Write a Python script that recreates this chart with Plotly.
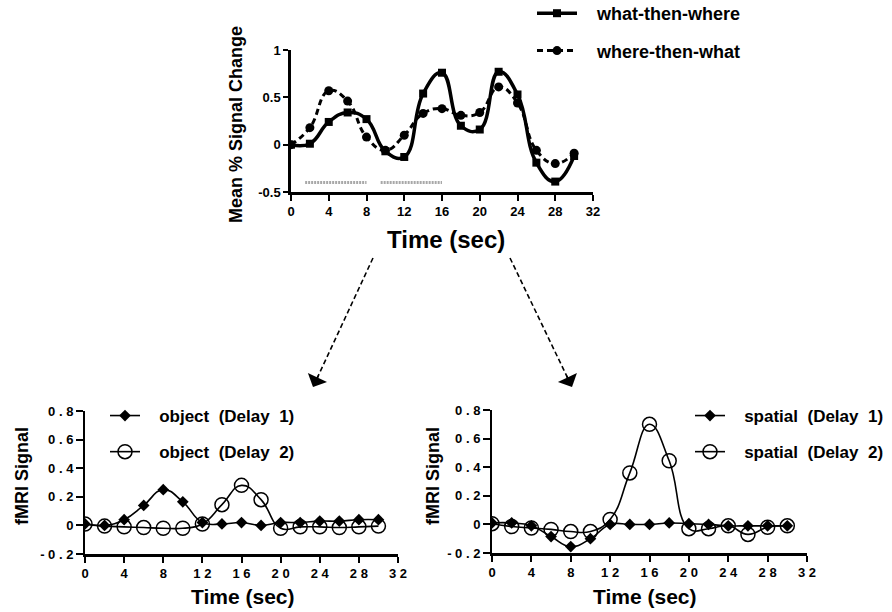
import plotly.graph_objects as go

W, H = 892, 612

# ---------------- data ----------------
time = [0, 2, 4, 6, 8, 10, 12, 14, 16, 18, 20, 22, 24, 26, 28, 30]

what_then_where = [0.0, 0.01, 0.24, 0.34, 0.27, -0.07, -0.13, 0.54, 0.76, 0.20, 0.16, 0.77, 0.53, -0.19, -0.39, -0.12]
where_then_what = [0.0, 0.18, 0.57, 0.46, 0.08, -0.06, 0.10, 0.33, 0.38, 0.31, 0.34, 0.61, 0.44, -0.06, -0.20, -0.09]

stim_start = [1.5, 9.5]
stim_end = [8.0, 16.0]
stim_level = -0.4

object_delay1 = [0.01, 0.0, 0.04, 0.14, 0.25, 0.165, 0.02, 0.01, 0.02, 0.0, 0.02, 0.02, 0.03, 0.03, 0.04, 0.04]
object_delay2 = [0.01, -0.005, -0.01, -0.015, -0.02, -0.02, 0.01, 0.145, 0.28, 0.18, -0.02, -0.01, -0.01, -0.015, -0.01, -0.005]

spatial_delay1 = [0.01, 0.01, -0.01, -0.085, -0.155, -0.10, 0.0, 0.0, 0.0, 0.01, 0.005, 0.0, -0.01, -0.01, -0.01, -0.01]
spatial_delay2 = [0.005, -0.015, -0.025, -0.035, -0.05, -0.05, 0.035, 0.36, 0.70, 0.445, -0.03, -0.03, -0.01, -0.07, -0.02, -0.01]

x_tick_vals = [0, 4, 8, 12, 16, 20, 24, 28, 32]
top_x_text = ["0", "4", "8", "12", "16", "20", "24", "28", "32"]
bottom_x_text = ["0", "4", "8", "1 2", "1 6", "2 0", "2 4", "2 8", "3 2"]
top_y_vals = [-0.5, 0, 0.5, 1]
top_y_text = ["-0.5", "0", "0.5", "1"]
bottom_y_vals = [-0.2, 0, 0.2, 0.4, 0.6, 0.8]
bottom_y_text = ["- 0 . 2", "0", "0 . 2", "0 . 4", "0 . 6", "0 . 8"]

FONT = "Liberation Sans"
PAD = "\u00a0\u00a0\u00a0"

def fx(px):
    return px / W

def fy(py):
    return 1 - py / H

fig = go.Figure()

# ---------------- top panel ----------------
fig.add_trace(go.Scatter(
    x=time, y=what_then_where, name=PAD + "what-then-where", legend="legend", legendgroup="a",
    mode="lines+markers", line=dict(color="black", width=3.5, shape="spline", smoothing=1.3),
    marker=dict(symbol="square", size=8, color="black"), xaxis="x", yaxis="y"))
fig.add_trace(go.Scatter(
    x=time, y=where_then_what, name=PAD + "where-then-what", legend="legend", legendgroup="b",
    mode="lines+markers", line=dict(color="black", width=3, dash="6px,4px", shape="spline", smoothing=1.3),
    marker=dict(symbol="circle", size=9, color="black"), xaxis="x", yaxis="y"))
for s, e in zip(stim_start, stim_end):
    fig.add_trace(go.Scatter(
        x=[s, e], y=[stim_level, stim_level], mode="lines", showlegend=False,
        line=dict(color="#a8a8a8", width=3, dash="2px,1px"), xaxis="x", yaxis="y", hoverinfo="skip"))

# ---------------- bottom-left panel ----------------
fig.add_trace(go.Scatter(
    x=time, y=object_delay1, name=PAD + "object  (Delay  1)", legend="legend2", legendgroup="c",
    mode="lines+markers", line=dict(color="black", width=1.6, shape="spline", smoothing=1.3),
    marker=dict(symbol="diamond", size=9, color="black"), xaxis="x2", yaxis="y2"))
fig.add_trace(go.Scatter(
    x=time, y=object_delay2, name=PAD + "object  (Delay  2)", legend="legend2", legendgroup="d",
    mode="lines+markers", line=dict(color="black", width=1.6, shape="spline", smoothing=1.3),
    marker=dict(symbol="circle-open", size=14, color="black", line=dict(width=1.5)), xaxis="x2", yaxis="y2"))

# ---------------- bottom-right panel ----------------
fig.add_trace(go.Scatter(
    x=time, y=spatial_delay1, name=PAD + "spatial  (Delay  1)", legend="legend3", legendgroup="e",
    mode="lines+markers", line=dict(color="black", width=1.6, shape="spline", smoothing=1.3),
    marker=dict(symbol="diamond", size=9, color="black"), xaxis="x3", yaxis="y3"))
fig.add_trace(go.Scatter(
    x=time, y=spatial_delay2, name=PAD + "spatial  (Delay  2)", legend="legend3", legendgroup="f",
    mode="lines+markers", line=dict(color="black", width=1.6, shape="spline", smoothing=1.3),
    marker=dict(symbol="circle-open", size=14, color="black", line=dict(width=1.5)), xaxis="x3", yaxis="y3"))

axis_common = dict(showgrid=False, zeroline=False, showline=True, linecolor="black",
                   ticks="outside", tickcolor="black", tickwidth=2, fixedrange=True)

tickfont_top = dict(family=FONT, size=13, color="black", weight="bold")
tickfont_bot = dict(family=FONT, size=13, color="black", weight="bold")
legfont_top = dict(family=FONT, size=18, color="black", weight="bold")
legfont = dict(family=FONT, size=17, color="black", weight="bold")

fig.update_layout(
    width=W, height=H, margin=dict(l=0, r=0, t=0, b=0, autoexpand=False),
    paper_bgcolor="white", plot_bgcolor="white",
    font=dict(family=FONT, color="black", weight="bold"),
    xaxis=dict(domain=[fx(291), fx(593)], range=[0, 32], tickvals=x_tick_vals, ticktext=top_x_text,
               anchor="y", linewidth=2.5, ticklen=6, tickfont=tickfont_top, **axis_common),
    yaxis=dict(domain=[fy(192), fy(50)], range=[-0.5, 1], tickvals=top_y_vals, ticktext=top_y_text,
               anchor="x", linewidth=2.5, ticklen=5, tickfont=tickfont_top, **axis_common),
    xaxis2=dict(domain=[fx(85), fx(398)], range=[0, 32], tickvals=x_tick_vals, ticktext=bottom_x_text,
                anchor="y2", linewidth=2.5, ticklen=6, tickfont=tickfont_bot, **axis_common),
    yaxis2=dict(domain=[fy(554), fy(411)], range=[-0.2, 0.8], tickvals=bottom_y_vals, ticktext=bottom_y_text,
                anchor="x2", linewidth=2, ticklen=7, tickfont=tickfont_bot, **axis_common),
    xaxis3=dict(domain=[fx(492), fx(807)], range=[0, 32], tickvals=x_tick_vals, ticktext=bottom_x_text,
                anchor="y3", linewidth=2.5, ticklen=6, tickfont=tickfont_bot, **axis_common),
    yaxis3=dict(domain=[fy(553), fy(410)], range=[-0.2, 0.8], tickvals=bottom_y_vals, ticktext=bottom_y_text,
                anchor="x3", linewidth=2, ticklen=7, tickfont=tickfont_bot, **axis_common),
    legend=dict(x=fx(532), y=fy(-5), xanchor="left", yanchor="top", bgcolor="rgba(0,0,0,0)",
                font=legfont_top, itemwidth=40, tracegroupgap=11, traceorder="grouped"),
    legend2=dict(x=fx(105), y=fy(398), xanchor="left", yanchor="top", bgcolor="rgba(0,0,0,0)",
                 font=legfont, itemwidth=30, tracegroupgap=11, traceorder="grouped"),
    legend3=dict(x=fx(690), y=fy(398), xanchor="left", yanchor="top", bgcolor="rgba(0,0,0,0)",
                 font=legfont, itemwidth=30, tracegroupgap=11, traceorder="grouped"),
    showlegend=True,
)

# axis titles
annots = [
    dict(text="Time (sec)", x=fx(446), y=fy(240), size=24, angle=0),
    dict(text="Mean % Signal Change", x=fx(236), y=fy(125), size=18, angle=-90),
    dict(text="Time (sec)", x=fx(243), y=fy(596), size=21, angle=0),
    dict(text="Time (sec)", x=fx(645), y=fy(596), size=21, angle=0),
    dict(text="fMRI Signal", x=fx(22), y=fy(476), size=18, angle=-90),
    dict(text="fMRI Signal", x=fx(433), y=fy(476), size=18, angle=-90),
]
for a in annots:
    fig.add_annotation(text=a["text"], x=a["x"], y=a["y"], xref="paper", yref="paper",
                       xanchor="center", yanchor="middle", showarrow=False, textangle=a["angle"],
                       font=dict(family=FONT, size=a["size"], color="black", weight="bold"))

# dashed arrows linking panels
arrows = [((373, 258), (313, 387)), ((510, 258), (572, 387))]
for (x0, y0), (x1, y1) in arrows:
    fig.add_shape(type="line", xref="paper", yref="paper", x0=fx(x0), y0=fy(y0), x1=fx(x1), y1=fy(y1),
                  line=dict(color="black", width=1.6, dash="5px,3px"))
    dx, dy = x0 - x1, y0 - y1
    n = (dx * dx + dy * dy) ** 0.5
    fig.add_annotation(x=fx(x1), y=fy(y1), xref="paper", yref="paper", text="",
                       showarrow=True, arrowhead=1, arrowsize=2.2, arrowwidth=1.6, arrowcolor="black",
                       ax=dx / n * 14, ay=dy / n * 14, standoff=0)

fig.write_html("out.html")
